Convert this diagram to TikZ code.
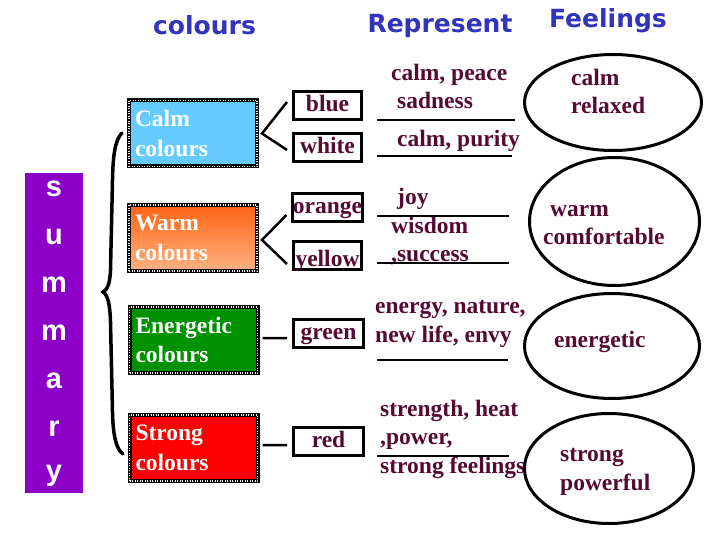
\documentclass[tikz,border=0pt]{standalone}
\usepackage{fontspec}
\setmainfont{Liberation Serif}
\newfontfamily\headfont{DejaVu Sans}
\newfontfamily\sumfont{Liberation Sans}
\usetikzlibrary{shapes.geometric}
\definecolor{headblue}{RGB}{51,51,187}
\definecolor{inkred}{RGB}{85,10,50}
\definecolor{sumpurple}{RGB}{140,0,200}
\definecolor{calmblue}{RGB}{102,204,255}
\definecolor{warmtop}{RGB}{255,100,20}
\definecolor{warmbot}{RGB}{255,178,130}
\definecolor{energreen}{RGB}{0,145,0}
\definecolor{strongred}{RGB}{255,0,0}
\tikzset{
  head/.style={font=\headfont\bfseries\fontsize{25bp}{30bp}\selectfont, text=headblue,
    inner sep=0pt, anchor=base},
  word/.style={font=\bfseries\fontsize{23.5bp}{28.5bp}\selectfont, text=inkred,
    inner sep=0pt, align=left, anchor=base west},
  groupbox/.style={rectangle, draw=black, line width=4bp, minimum width=128bp,
    minimum height=66bp, inner sep=0pt, text=white, align=left, text width=116bp,
    font=\bfseries\fontsize{23.5bp}{29.5bp}\selectfont,
    postaction={draw=white, line width=1.3bp, dash pattern=on 1bp off 1.5bp}},
  colbox/.style={rectangle, draw=black, line width=3bp, fill=white, minimum width=68bp,
    minimum height=28bp, inner sep=0pt, text=inkred, text height=16bp, text depth=4bp,
    font=\bfseries\fontsize{23.5bp}{28.5bp}\selectfont},
  feel/.style={ellipse, draw=black, line width=3bp, inner sep=0pt},
  link/.style={line width=2.5bp, draw=black},
  uline/.style={line width=2.5bp, draw=black},
  sumletter/.style={font=\sumfont\bfseries\fontsize{29bp}{29bp}\selectfont, text=white,
    inner sep=0pt, anchor=base},
}
\begin{document}
\begin{tikzpicture}[x=1bp, y=-1bp]
  \useasboundingbox (0,0) rectangle (720,540);
  \fill[white] (0,0) rectangle (720,540);
  % column heads
  \node[head] (hcol) at (204.5,35) {colours};
  \node[head] (hrep) at (440,33) {Represent};
  \node[head] (hfeel) at (608,28) {Feelings};
  % summary bar
  \fill[sumpurple] (25,173) rectangle (83,493);
  \foreach \ch/\yb [count=\i] in {s/197,u/245,m/292,m/340,a/388,r/436,y/480}
    \node[sumletter] (sum\i) at (54,\yb) {\ch};
  \draw[line width=3.5bp, line cap=round] (122,133) .. controls (115,140) and (113,155) .. (112.5,180)
    -- (110.5,270) .. controls (110,284) and (107,290) .. (103,292)
    .. controls (108,295) and (110,305) .. (110.5,322) -- (112.5,412)
    .. controls (113,438) and (117,450) .. (123,454);
  % colour groups
  \node[groupbox, fill=calmblue] (calm) at (193,133.5) {Calm\\colours};
  \node[groupbox, top color=warmtop, bottom color=warmbot] (warm) at (193,238) {Warm\\colours};
  \node[groupbox, fill=energreen] (ener) at (193.5,340) {Energetic\\colours};
  \node[groupbox, fill=strongred] (strong) at (193.5,448) {Strong\\colours};
  % single colours
  \node[colbox] (blue) at (327.5,105.5) {blue};
  \node[colbox] (white) at (327.5,147.5) {white};
  \node[colbox] (orange) at (327.5,208) {orange};
  \node[colbox, text height=23bp, text depth=0pt] (yellow) at (327.5,255.5) {yellow};
  \node[colbox, minimum width=70bp] (green) at (328.5,333) {green};
  \node[colbox, minimum width=70bp] (red) at (328.5,441.5) {red};
  \draw[link] ([xshift=-5bp,yshift=3.5bp]blue.west) -- ([xshift=3bp]calm.east)
    -- ([xshift=-5bp,yshift=-2.5bp]white.west);
  \draw[link] ([xshift=-5bp,yshift=-7bp]orange.west) -- ([xshift=3bp,yshift=-2bp]warm.east)
    -- ([xshift=-5bp,yshift=-8.5bp]yellow.west);
  \draw[link] ([xshift=3bp,yshift=2bp]ener.east) -- ([xshift=-5bp,yshift=-5bp]green.west);
  \draw[link] ([xshift=3bp,yshift=3bp]strong.east) -- ([xshift=-5bp,yshift=-3.5bp]red.west);
  % what they represent (base = last line)
  \node[word] (repcalm) at (391,109) {calm, peace\\\hspace*{6bp}sadness};
  \node[word] (reppure) at (397,147) {calm, purity};
  \node[word] (repjoy) at (391,262) {\hspace*{6bp}joy\\wisdom\\,success};
  \node[word] (repener) at (375,342) {energy, nature,\\new life, envy};
  \node[word] (repstr) at (380,473) {strength, heat\\,power,\\strong feelings};
  \draw[uline] (377,120) -- (515,120);
  \draw[uline] (377,156) -- (512,156);
  \draw[uline] (377,216) -- (509,216);
  \draw[uline] (377,263) -- (509,263);
  \draw[uline] (377,360) -- (508,360);
  \draw[uline] (377,456) -- (509,456);
  % feelings
  \node[feel, minimum width=177bp, minimum height=96bp] (fcalm) at (613,102.5) {};
  \node[feel, minimum width=170bp, minimum height=128bp] (fwarm) at (614.5,221.5) {};
  \node[feel, minimum width=175bp, minimum height=105bp] (fener) at (612,346) {};
  \node[feel, minimum width=169bp, minimum height=110bp] (fstr) at (609,468.5) {};
  \node[word] (tcalm) at (571,114) {calm\\relaxed};
  \node[word] (twarm) at (543,245) {\hspace*{7bp}warm\\comfortable};
  \node[word] (tener) at (554,347) {energetic};
  \node[word] (tstr) at (560,490) {strong\\powerful};
\end{tikzpicture}
\end{document}
